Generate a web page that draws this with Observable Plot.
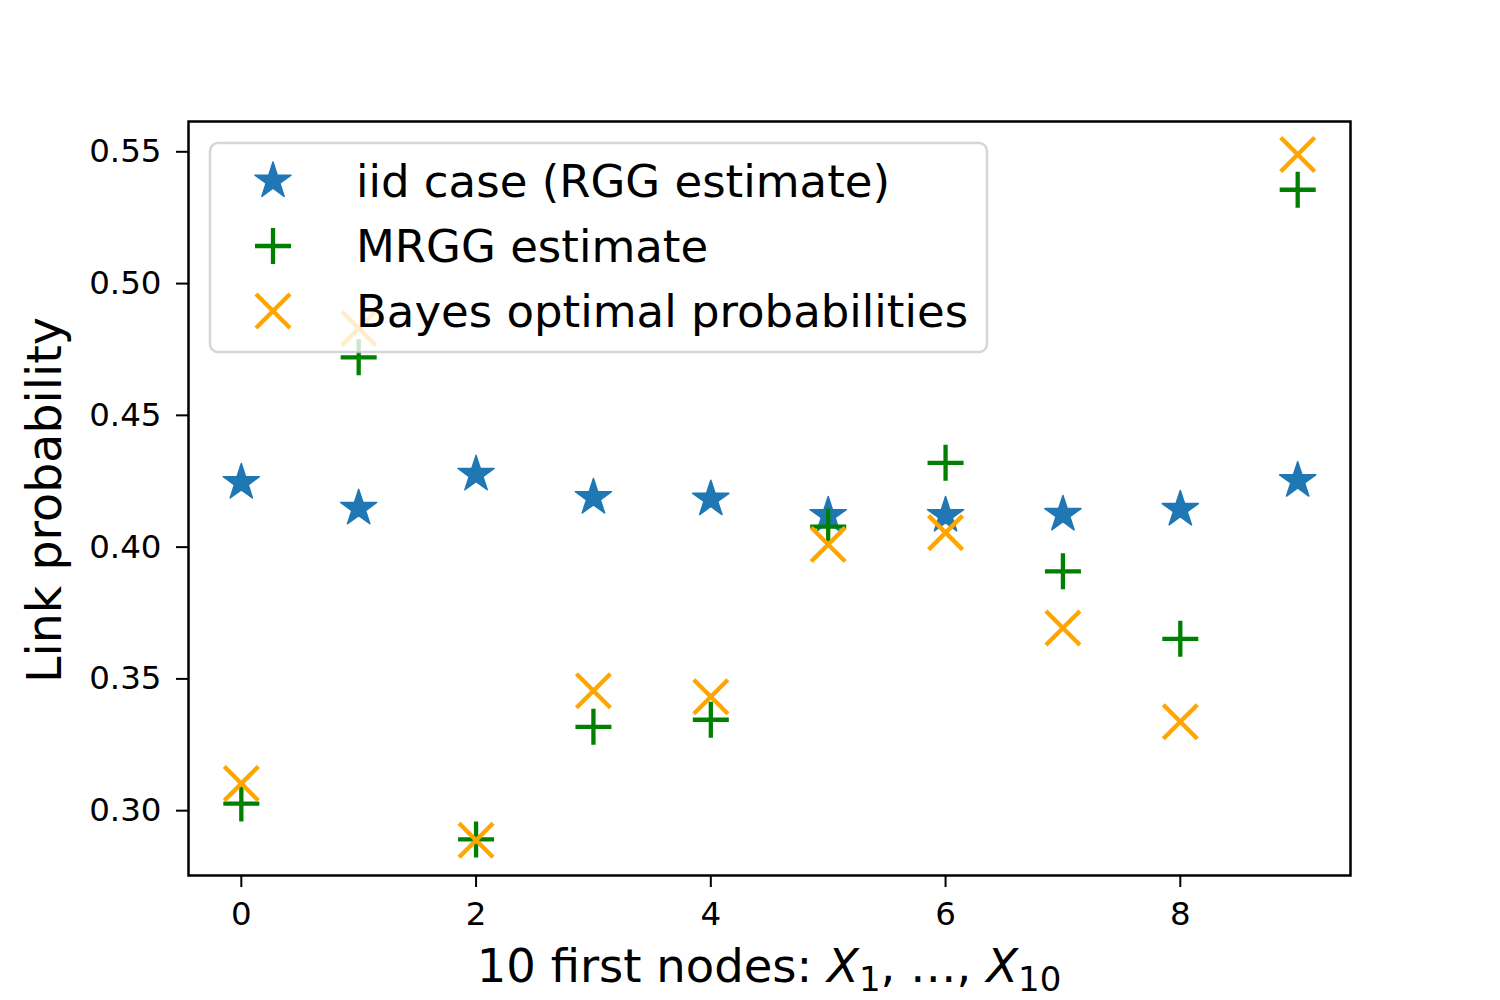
<!DOCTYPE html>
<html><head><meta charset="utf-8">
<script src="https://cdn.jsdelivr.net/npm/d3@7"></script>
<script src="https://cdn.jsdelivr.net/npm/@observablehq/plot@0.6"></script>
<style>body{margin:0;background:#fff;} svg{display:block;}</style>
</head><body><div id="chart"></div>
<script>
const nodes = [0, 1, 2, 3, 4, 5, 6, 7, 8, 9];
const iidRGG = [0.4245, 0.4147, 0.4276, 0.4188, 0.4182, 0.4120, 0.4120, 0.4124, 0.4143, 0.4252];
const mrgg   = [0.3027, 0.4720, 0.2891, 0.3318, 0.3345, 0.4078, 0.4320, 0.3908, 0.3652, 0.5356];
const bayes  = [0.3103, 0.4830, 0.2888, 0.3455, 0.3432, 0.4010, 0.4055, 0.3693, 0.3337, 0.5490];
const seriesNames = ["iid case (RGG estimate)", "MRGG estimate", "Bayes optimal probabilities"];
const seriesColors = ["#1f77b4", "green", "orange"];
const xTicks = [0, 2, 4, 6, 8];
const yTicks = [0.30, 0.35, 0.40, 0.45, 0.50, 0.55];
const xLabelText = "10 first nodes: ";
const yLabelText = "Link probability";

const star = {draw(ctx, size) {
  const R = Math.sqrt(size / Math.PI), r = R * 0.381966;
  for (let i = 0; i < 10; i++) {
    const a = -Math.PI / 2 + i * Math.PI / 5, rr = i % 2 ? r : R;
    const x = rr * Math.cos(a), y = rr * Math.sin(a);
    if (i) ctx.lineTo(x, y); else ctx.moveTo(x, y);
  }
  ctx.closePath();
}};
const plus = {draw(ctx, size) {
  const R = Math.sqrt(size / Math.PI);
  ctx.moveTo(-R, 0); ctx.lineTo(R, 0); ctx.moveTo(0, -R); ctx.lineTo(0, R);
}};
const times = {draw(ctx, size) {
  const R = Math.sqrt(size / Math.PI);
  ctx.moveTo(-R, -R); ctx.lineTo(R, R); ctx.moveTo(-R, R); ctx.lineTo(R, -R);
}};
const symbols = [star, plus, times];
const symbolR = [19, 18, 17];

const rows = nodes.map((n, i) => ({node: n, iid: iidRGG[i], mrgg: mrgg[i], bayes: bayes[i]}));

const chart = Plot.plot({
  width: 1500, height: 1000,
  marginLeft: 188, marginRight: 150, marginTop: 121, marginBottom: 125,
  style: {fontFamily: "DejaVu Sans", fontSize: "32.5px", color: "black", background: "white", overflow: "visible"},
  x: {domain: [-0.45, 9.45]},
  y: {domain: [0.2754, 0.5615]},
  marks: [
    Plot.dot(rows, {x: "node", y: "iid", symbol: star, r: symbolR[0], fill: seriesColors[0], stroke: seriesColors[0], strokeWidth: 1.5, strokeLinejoin: "round"}),
    Plot.dot(rows, {x: "node", y: "mrgg", symbol: plus, r: symbolR[1], fill: "none", stroke: seriesColors[1], strokeWidth: 4.3}),
    Plot.dot(rows, {x: "node", y: "bayes", symbol: times, r: symbolR[2], fill: "none", stroke: seriesColors[2], strokeWidth: 4.3}),
    Plot.axisX({ticks: xTicks, tickSize: 12, tickPadding: 14, strokeWidth: 2, label: null}),
    Plot.axisY({ticks: yTicks, tickFormat: d3.format(".2f"), tickSize: 12, tickPadding: 15, strokeWidth: 2, label: null}),
    Plot.frame({stroke: "black", strokeWidth: 2.5})
  ]
});
document.getElementById("chart").appendChild(chart);

const svg = d3.select(chart);
// x label with math-style subscripts
const xl = svg.append("text").attr("x", 769).attr("y", 982).attr("text-anchor", "middle")
  .attr("font-family", "DejaVu Sans").attr("font-size", 46.5).attr("fill", "black");
xl.append("tspan").text(xLabelText);
xl.append("tspan").attr("font-style", "italic").text("X");
xl.append("tspan").attr("font-size", 34).attr("dy", 9).text("1");
xl.append("tspan").attr("dy", -9).text(", …, ");
xl.append("tspan").attr("font-style", "italic").text("X");
xl.append("tspan").attr("font-size", 34).attr("dy", 9).text("10");

svg.append("text").attr("transform", "translate(61,500) rotate(-90)").attr("text-anchor", "middle")
  .attr("font-family", "DejaVu Sans").attr("font-size", 47.5).attr("fill", "black").text(yLabelText);

// legend
const lg = svg.append("g");
lg.append("rect").attr("x", 210).attr("y", 143).attr("width", 777).attr("height", 209).attr("rx", 8)
  .attr("fill", "white").attr("fill-opacity", 0.8).attr("stroke", "#cccccc").attr("stroke-opacity", 0.8).attr("stroke-width", 2.5);
seriesNames.forEach((name, i) => {
  const cy = 181 + i * 65;
  const p = lg.append("path").attr("d", d3.symbol(symbols[i], Math.PI * symbolR[i] * symbolR[i])())
    .attr("transform", `translate(273,${cy})`);
  if (i === 0) p.attr("fill", seriesColors[0]).attr("stroke", seriesColors[0]).attr("stroke-width", 1.5).attr("stroke-linejoin", "round");
  else p.attr("fill", "none").attr("stroke", seriesColors[i]).attr("stroke-width", 4.3);
  lg.append("text").attr("x", 356).attr("y", cy).attr("dy", "0.36em").attr("text-anchor", "start")
    .attr("font-family", "DejaVu Sans").attr("font-size", 45).attr("fill", "black").text(name);
});
</script>
</body></html>
